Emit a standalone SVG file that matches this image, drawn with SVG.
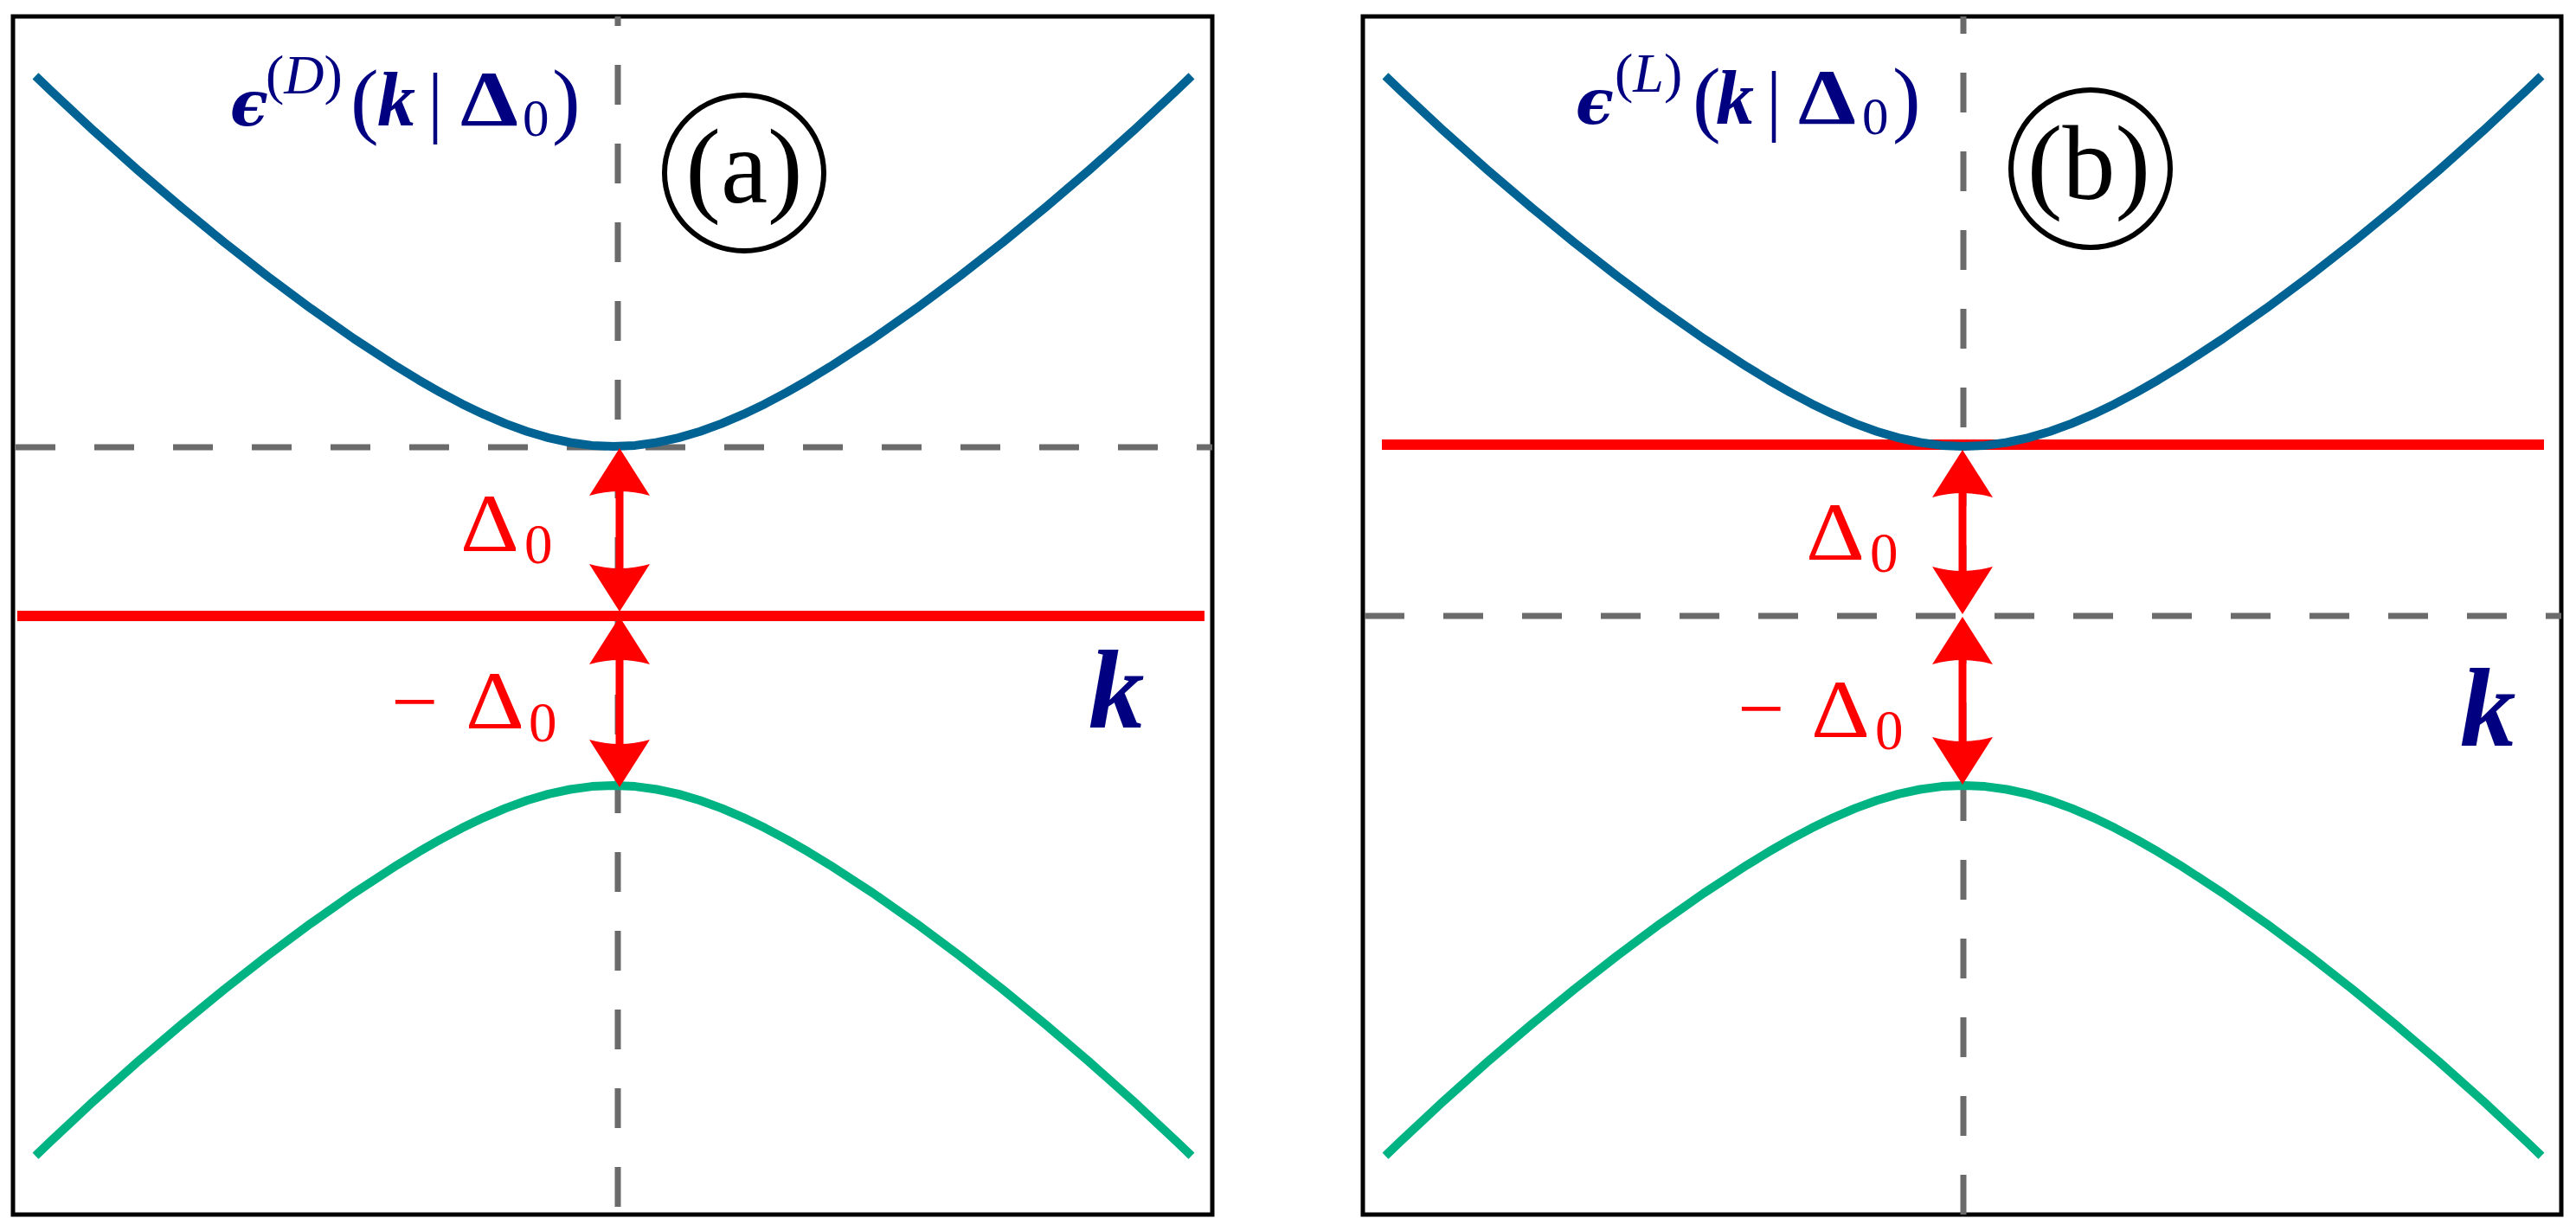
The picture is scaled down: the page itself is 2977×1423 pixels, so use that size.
<svg xmlns="http://www.w3.org/2000/svg" width="2977" height="1423" viewBox="0 0 2977 1423">
<style>
.frame{fill:none;stroke:#000;stroke-width:5}
.dash{stroke:#6b6b6b;stroke-width:7;stroke-dasharray:46 45}
.blue{fill:none;stroke:#006394;stroke-width:10;stroke-linejoin:round}
.green{fill:none;stroke:#00b383;stroke-width:10;stroke-linejoin:round}
.red{stroke:#ff0000;stroke-width:12}
.shaft{stroke:#ff0000;stroke-width:9}
.circ{fill:none;stroke:#000;stroke-width:6}
.lbl{font-family:"Liberation Serif","DejaVu Serif",serif;fill:#000080}
.rlbl{font-family:"Liberation Serif","DejaVu Serif",serif;fill:#ff0000}
.tag{font-family:"Liberation Serif","DejaVu Serif",serif;fill:#000;font-size:122px;text-anchor:middle}
.bi{font-weight:bold;font-style:italic}
</style>
<defs>
<path id="band" d="M-668,-624.2 L-650,-606.9 L-600,-560.2 L-550,-515.6 L-500,-472.9 L-450,-431.9 L-400,-392.8 L-350,-355.6 L-300,-320.5 L-250,-287.9 L-225,-272.7 L-200,-258.4 L-175,-245.1 L-150,-233.1 L-125,-222.4 L-100,-213.3 L-75,-205.9 L-50,-200.5 L-25,-197.1 L0,-196 L25,-197.1 L50,-200.5 L75,-205.9 L100,-213.3 L125,-222.4 L150,-233.1 L175,-245.1 L200,-258.4 L225,-272.7 L250,-287.9 L300,-320.5 L350,-355.6 L400,-392.8 L450,-431.9 L500,-472.9 L550,-515.6 L600,-560.2 L650,-606.9 L668,-624.2"/>
<marker id="head" markerUnits="userSpaceOnUse" viewBox="0 -40 60 80" markerWidth="60" markerHeight="80" refX="10" refY="0" orient="auto-start-reverse">
<path d="M55,0 L0,-35 Q10,0 0,35 Z" fill="#ff0000"/>
</marker>
</defs>

<g id="panel-a">
<rect class="frame" x="15" y="19" width="1386" height="1385"/>
<line class="dash" x1="714" y1="19" x2="714" y2="1404" style="stroke-dashoffset:35"/>
<line class="dash" x1="18" y1="517" x2="1401" y2="517"/>
<line class="red" x1="20" y1="712" x2="1392" y2="712"/>
<use href="#band" class="blue" transform="translate(709,712)"/>
<use href="#band" class="green" transform="translate(709,712) scale(1,-1)"/>
<ellipse class="circ" cx="860" cy="200" rx="92" ry="90"/>
<text class="tag" x="860" y="234" font-family="Liberation Serif, serif">(a)</text>
<g id="label-a-eps">
<text class="lbl bi" x="266" y="145" font-family="DejaVu Serif, serif" font-size="72" style="font-family:'DejaVu Serif',serif">ϵ</text>
<text class="lbl" x="307" y="108" font-size="64" font-family="Liberation Serif, serif">(<tspan font-style="italic">D</tspan>)</text>
<text class="lbl" x="405" y="148" font-size="98" font-family="Liberation Serif, serif">(</text>
<text class="lbl bi" x="436" y="145" font-size="88" font-family="Liberation Serif, serif">k</text>
<text class="lbl" x="494" y="148" font-size="90" font-family="Liberation Serif, serif">|</text>
<text class="lbl" x="532" y="145" font-size="92" font-weight="bold" font-family="Liberation Serif, serif" textLength="67" lengthAdjust="spacingAndGlyphs">Δ</text>
<text class="lbl" x="604" y="157" font-size="61" font-family="Liberation Serif, serif">0</text>
<text class="lbl" x="638" y="148" font-size="98" font-family="Liberation Serif, serif">)</text>
</g>
<text class="lbl bi" x="1258" y="841" font-size="129" font-family="Liberation Serif, serif">k</text>
<g id="arrows-a">
<line class="shaft" x1="716" y1="563" x2="716" y2="662" marker-start="url(#head)" marker-end="url(#head)"/>
<line class="shaft" x1="716" y1="758" x2="716" y2="865" marker-start="url(#head)" marker-end="url(#head)"/>
</g>
<text class="rlbl" x="532" y="637" font-size="96" font-family="Liberation Serif, serif" textLength="68" lengthAdjust="spacingAndGlyphs">Δ</text>
<text class="rlbl" x="606" y="651" font-size="65" font-family="Liberation Serif, serif">0</text>
<text class="rlbl" x="452" y="843" font-size="96" font-family="Liberation Serif, serif">−</text>
<text class="rlbl" x="538" y="842" font-size="96" font-family="Liberation Serif, serif" textLength="68" lengthAdjust="spacingAndGlyphs">Δ</text>
<text class="rlbl" x="611" y="857" font-size="65" font-family="Liberation Serif, serif">0</text>
</g>

<g id="panel-b">
<rect class="frame" x="1575" y="19" width="1385" height="1385"/>
<line class="dash" x1="2269" y1="19" x2="2269" y2="1404" style="stroke-dashoffset:26"/>
<line class="dash" x1="1577" y1="712" x2="2960" y2="712"/>
<line class="red" x1="1597" y1="514" x2="2940" y2="514"/>
<use href="#band" class="blue" transform="translate(2269,712)"/>
<use href="#band" class="green" transform="translate(2269,712) scale(1,-1)"/>
<ellipse class="circ" cx="2416" cy="195" rx="92" ry="91"/>
<text class="tag" x="2414" y="230" font-family="Liberation Serif, serif">(b)</text>
<g id="label-b-eps">
<text class="lbl bi" x="1821" y="143" font-family="DejaVu Serif, serif" font-size="72" style="font-family:'DejaVu Serif',serif">ϵ</text>
<text class="lbl" x="1866" y="106" font-size="64" font-family="Liberation Serif, serif">(<tspan font-style="italic">L</tspan>)</text>
<text class="lbl" x="1956" y="146" font-size="98" font-family="Liberation Serif, serif">(</text>
<text class="lbl bi" x="1983" y="143" font-size="88" font-family="Liberation Serif, serif">k</text>
<text class="lbl" x="2041" y="146" font-size="90" font-family="Liberation Serif, serif">|</text>
<text class="lbl" x="2078" y="143" font-size="92" font-weight="bold" font-family="Liberation Serif, serif" textLength="67" lengthAdjust="spacingAndGlyphs">Δ</text>
<text class="lbl" x="2152" y="155" font-size="61" font-family="Liberation Serif, serif">0</text>
<text class="lbl" x="2187" y="146" font-size="98" font-family="Liberation Serif, serif">)</text>
</g>
<text class="lbl bi" x="2843" y="862" font-size="129" font-family="Liberation Serif, serif">k</text>
<g id="arrows-b">
<line class="shaft" x1="2268" y1="565" x2="2268" y2="665" marker-start="url(#head)" marker-end="url(#head)"/>
<line class="shaft" x1="2268" y1="758" x2="2268" y2="862" marker-start="url(#head)" marker-end="url(#head)"/>
</g>
<text class="rlbl" x="2087" y="647" font-size="96" font-family="Liberation Serif, serif" textLength="68" lengthAdjust="spacingAndGlyphs">Δ</text>
<text class="rlbl" x="2161" y="661" font-size="65" font-family="Liberation Serif, serif">0</text>
<text class="rlbl" x="2008" y="851" font-size="96" font-family="Liberation Serif, serif">−</text>
<text class="rlbl" x="2093" y="852" font-size="96" font-family="Liberation Serif, serif" textLength="68" lengthAdjust="spacingAndGlyphs">Δ</text>
<text class="rlbl" x="2167" y="866" font-size="65" font-family="Liberation Serif, serif">0</text>
</g>
</svg>
